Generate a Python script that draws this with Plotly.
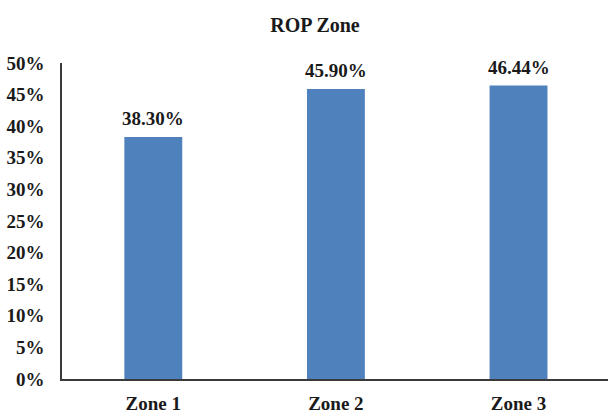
import plotly.graph_objects as go

categories = ["Zone 1", "Zone 2", "Zone 3"]
values = [0.3830, 0.4590, 0.4644]
labels = ["38.30%", "45.90%", "46.44%"]
y_ticks = [0, 0.05, 0.10, 0.15, 0.20, 0.25, 0.30, 0.35, 0.40, 0.45, 0.50]
y_tick_text = ["0%", "5%", "10%", "15%", "20%", "25%", "30%", "35%", "40%", "45%", "50%"]
title = "ROP Zone"

FONT = "Liberation Serif"
TXT = "#1a1a1a"

fig = go.Figure()
fig.add_trace(go.Bar(
    x=categories, y=values,
    marker=dict(color="#4F81BD", line=dict(width=0)),
    width=0.317,
    hoverinfo="skip",
))

for c, v, t in zip(categories, values, labels):
    fig.add_annotation(
        x=c, y=v, text="<b>%s</b>" % t, showarrow=False,
        yanchor="bottom", yshift=6,
        font=dict(family=FONT, size=19, color=TXT),
    )

fig.update_layout(
    width=608, height=414,
    margin=dict(l=62, r=0, t=63, b=31),
    paper_bgcolor="white", plot_bgcolor="white",
    showlegend=False,
    title=dict(
        text="<b>%s</b>" % title,
        x=315 / 608, xref="container", xanchor="center",
        y=1 - 25 / 414, yref="container", yanchor="middle",
        font=dict(family=FONT, size=20, color=TXT),
    ),
    xaxis=dict(
        range=[-0.5, 2.49],
        showgrid=False, zeroline=False,
        showline=True, linecolor="#3a3a3a", linewidth=1.5,
        ticks="", tickfont=dict(family=FONT, size=19, color=TXT),
        tickmode="array", tickvals=categories,
        ticktext=["<b>%s</b>" % c for c in categories],
        ticklabelstandoff=6,
    ),
    yaxis=dict(
        range=[0, 0.5],
        showgrid=False, zeroline=False,
        showline=True, linecolor="#3a3a3a", linewidth=1.5,
        ticks="", tickmode="array", tickvals=y_ticks,
        ticktext=["<b>%s</b>" % t for t in y_tick_text],
        tickfont=dict(family=FONT, size=19, color=TXT),
        ticklabelstandoff=12,
    ),
)

fig.write_html("out.html")
